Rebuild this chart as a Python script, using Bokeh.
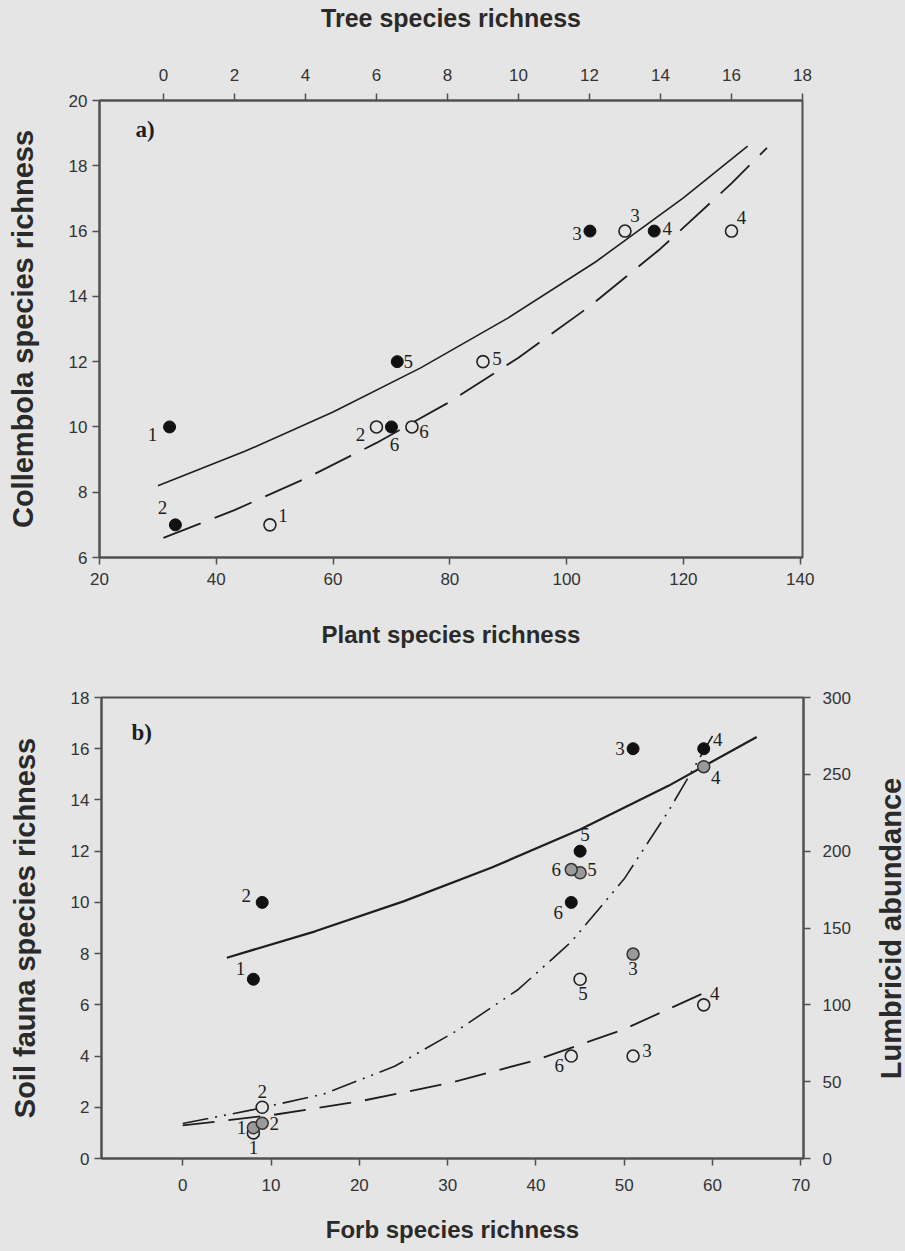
import math
from bokeh.plotting import figure
from bokeh.models import Range1d, LinearAxis, FixedTicker, ColumnDataSource, LabelSet, Label
from bokeh.layouts import column, row
from bokeh.embed import file_html
from bokeh.resources import INLINE

BG = "#e5e5e5"
INK = "#1e1e1e"
AX = "#505050"

# ---------------- Panel a data ----------------
site_labels = ["1", "2", "3", "4", "5", "6"]
plant_richness = [32, 33, 104, 115, 71, 70]
tree_richness = [3, 6, 13, 16, 9, 7]
collembola_vs_plant = [10, 7, 16, 16, 12, 10]
collembola_vs_tree = [7, 10, 16, 16, 12, 10]

# fitted curves
fit_plant_x = [30, 45, 60, 75, 90, 105, 120, 131]
fit_plant_y = [8.2, 9.26, 10.46, 11.81, 13.34, 15.06, 17.02, 18.6]
fit_tree_x = [0, 2, 4, 6, 8, 10, 12, 14, 16, 17]
fit_tree_y = [6.6, 7.45, 8.42, 9.51, 10.73, 12.12, 13.69, 15.46, 17.46, 18.55]

# ---------------- Panel b data ----------------
forb_richness = [8, 9, 51, 59, 45, 44]
soil_fauna_richness = [7, 10, 16, 16, 12, 10]
open_richness = [1, 2, 4, 6, 7, 4]
lumbricid_abundance = [20, 23, 133, 255, 186, 188]

fit_fauna_x = [5, 15, 25, 35, 45, 55, 65]
fit_fauna_y = [7.84, 8.87, 10.04, 11.36, 12.85, 14.55, 16.46]
fit_open_x = [0, 10, 20, 30, 40, 50, 59]
fit_open_y = [1.29, 1.69, 2.23, 2.93, 3.84, 5.05, 6.46]
fit_lumb_x = [0, 8, 16, 24, 31, 38, 44, 50, 55, 60]
fit_lumb_y = [22.8, 31.8, 42, 60, 83, 110, 141, 182, 226, 275]

# label offsets (pixels, right / down)
off_a_plant = [(-17, 8), (-13, -17), (-13, 2), (13, -3), (11, 0), (3, 18)]
off_a_tree = [(13, -9), (-16, 8), (10, -16), (10, -14), (14, -3), (12, 5)]
off_b_fauna = [(-13, -11), (-16, -7), (-13, 0), (14, -9), (5, -17), (-13, 10)]
off_b_open = [(0, 15), (0, -16), (14, -6), (11, -11), (3, 14), (-12, 9)]
off_b_lumb = [(-12, 0), (12, 0), (0, 14), (12, 11), (12, -3), (-15, 0)]

TICK_FONT = "Liberation Sans"
TITLE_FONT = "Liberation Sans"
NUM_FONT = "Liberation Serif"


def style_axis(ax, label_standoff=8, title_standoff=30, title_size="24px"):
    ax.axis_line_color = AX
    ax.axis_line_width = 2
    ax.major_tick_line_color = AX
    ax.major_tick_line_width = 1.5
    ax.major_tick_out = 7
    ax.major_tick_in = 0
    ax.minor_tick_line_color = None
    ax.major_label_text_font = TICK_FONT
    ax.major_label_text_font_size = "17px"
    ax.major_label_text_color = "#333333"
    ax.major_label_standoff = label_standoff
    ax.axis_label_text_font = TITLE_FONT
    ax.axis_label_text_font_style = "bold"
    ax.axis_label_text_font_size = title_size
    ax.axis_label_text_color = "#2a2a2a"
    ax.axis_label_standoff = title_standoff


def add_labels(p, xs, ys, offs, **kw):
    src = ColumnDataSource(dict(x=xs, y=ys, t=site_labels,
                                dx=[o[0] for o in offs],
                                dy=[-o[1] for o in offs]))
    ls = LabelSet(x="x", y="y", text="t", x_offset="dx", y_offset="dy", source=src,
                  text_font=NUM_FONT, text_font_size="19px", text_color=INK,
                  text_align="center", text_baseline="middle", **kw)
    p.add_layout(ls)


# ================= Panel a =================
pa = figure(width=905, height=655, output_backend="svg", toolbar_location=None,
            x_range=Range1d(20, 140.4), y_range=Range1d(6, 20),
            min_border_left=99, min_border_right=103, min_border_top=100, min_border_bottom=98,
            background_fill_color=BG, border_fill_color=BG)
pa.outline_line_color = AX
pa.outline_line_width = 2
pa.grid.visible = False
pa.extra_x_ranges = {"tree": Range1d(-1.8, 18.0)}

pa.xaxis.ticker = FixedTicker(ticks=[20, 40, 60, 80, 100, 120, 140])
pa.yaxis.ticker = FixedTicker(ticks=[6, 8, 10, 12, 14, 16, 18, 20])
pa.xaxis.axis_label = "Plant species richness"
pa.yaxis.axis_label = "Collembola species richness"
style_axis(pa.xaxis[0], label_standoff=8, title_standoff=33)
style_axis(pa.yaxis[0], label_standoff=5, title_standoff=27, title_size="29px")

top = LinearAxis(x_range_name="tree", axis_label="Tree species richness",
                 ticker=FixedTicker(ticks=[0, 2, 4, 6, 8, 10, 12, 14, 16, 18]))
style_axis(top, label_standoff=13, title_standoff=34, title_size="25px")
pa.add_layout(top, "above")

pa.line(fit_plant_x, fit_plant_y, line_color=INK, line_width=1.6)
pa.line(fit_tree_x, fit_tree_y, line_color=INK, line_width=1.8, line_dash="40 15",
        x_range_name="tree")

pa.scatter(plant_richness, collembola_vs_plant, size=12, fill_color="#111111",
           line_color="#111111")
pa.scatter(tree_richness, collembola_vs_tree, size=12, fill_color=BG,
           line_color="#222222", line_width=1.6, x_range_name="tree")

add_labels(pa, plant_richness, collembola_vs_plant, off_a_plant)
add_labels(pa, tree_richness, collembola_vs_tree, off_a_tree, x_range_name="tree")

pa.add_layout(Label(x=36, y=428, x_units="screen", y_units="screen", text="a)",
                    text_font=NUM_FONT, text_font_style="bold", text_font_size="23px",
                    text_color=INK, text_baseline="middle"))

# ================= Panel b =================
pb = figure(width=869, height=596, output_backend="svg", toolbar_location=None,
            x_range=Range1d(-9.2, 70.3), y_range=Range1d(0, 18),
            min_border_left=101, min_border_right=66, min_border_top=42, min_border_bottom=93,
            background_fill_color=BG, border_fill_color=BG)
pb.outline_line_color = AX
pb.outline_line_width = 2
pb.grid.visible = False
pb.extra_y_ranges = {"lumb": Range1d(0, 300)}

pb.xaxis.ticker = FixedTicker(ticks=[0, 10, 20, 30, 40, 50, 60, 70])
pb.yaxis.ticker = FixedTicker(ticks=[0, 2, 4, 6, 8, 10, 12, 14, 16, 18])
pb.xaxis.axis_label = "Forb species richness"
pb.yaxis.axis_label = "Soil fauna species richness"
style_axis(pb.xaxis[0], label_standoff=13, title_standoff=22)
style_axis(pb.yaxis[0], label_standoff=5, title_standoff=27, title_size="29px")

right = LinearAxis(y_range_name="lumb",
                   ticker=FixedTicker(ticks=[0, 50, 100, 150, 200, 250, 300]))
style_axis(right, label_standoff=12)
pb.add_layout(right, "right")

pb.line(fit_fauna_x, fit_fauna_y, line_color=INK, line_width=2.2)
pb.line(fit_open_x, fit_open_y, line_color=INK, line_width=1.8, line_dash="32 14")
pb.line(fit_lumb_x, fit_lumb_y, line_color=INK, line_width=1.6,
        line_dash="26 7 2 7 2 7", y_range_name="lumb")

pb.scatter(forb_richness, soil_fauna_richness, size=12, fill_color="#111111",
           line_color="#111111")
pb.scatter(forb_richness, open_richness, size=12, fill_color=BG,
           line_color="#222222", line_width=1.6)
pb.scatter(forb_richness, lumbricid_abundance, size=12, fill_color="#9a9a9a",
           line_color="#333333", line_width=1.5, y_range_name="lumb")

add_labels(pb, forb_richness, soil_fauna_richness, off_b_fauna)
add_labels(pb, forb_richness, open_richness, off_b_open)
add_labels(pb, forb_richness, lumbricid_abundance, off_b_lumb, y_range_name="lumb")

pb.add_layout(Label(x=30, y=426, x_units="screen", y_units="screen", text="b)",
                    text_font=NUM_FONT, text_font_style="bold", text_font_size="23px",
                    text_color=INK, text_baseline="middle"))

# strip on the right carrying the right-axis title (reads bottom to top)
pr = figure(width=36, height=596, output_backend="svg", toolbar_location=None,
            x_range=Range1d(0, 1), y_range=Range1d(0, 1),
            min_border_left=0, min_border_right=0, min_border_top=42, min_border_bottom=93,
            background_fill_color=BG, border_fill_color=BG)
pr.xaxis.visible = False
pr.yaxis.visible = False
pr.grid.visible = False
pr.outline_line_color = None
pr.add_layout(Label(x=21, y=230, x_units="screen", y_units="screen",
                    text="Lumbricid abundance", angle=math.pi / 2,
                    text_font=TITLE_FONT, text_font_style="bold", text_font_size="29px",
                    text_color="#2a2a2a", text_align="center", text_baseline="middle"))

bottom_row = row(pb, pr, spacing=0, styles={"background-color": BG})
layout = column(pa, bottom_row, spacing=0, styles={"background-color": BG})
open("out.html", "w").write(file_html(layout, INLINE))
